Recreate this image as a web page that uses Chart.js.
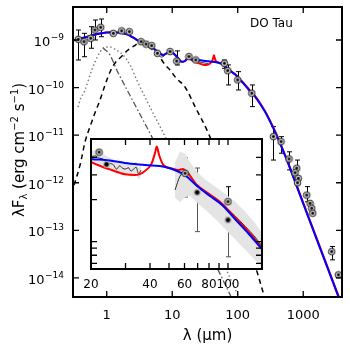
<!DOCTYPE html>
<html>
<head>
<meta charset="utf-8">
<script src="https://cdn.jsdelivr.net/npm/chart.js@4.4.1/dist/chart.umd.min.js"></script>
<style>
  html, body { margin:0; padding:0; background:#fff; }
  #wrap { position:relative; width:350px; height:350px; }
  #main { position:absolute; left:0; top:0; }
  #inset { position:absolute; left:70px; top:130px; }
</style>
</head>
<body>
<div id="wrap">
  <canvas id="main" width="350" height="350"></canvas>
  <canvas id="inset" width="200" height="170"></canvas>
</div>
<script>
// photometry, lambda in micron, lambda*F_lambda in erg cm-2 s-1
const ptLam = [0.368, 0.45, 0.57, 0.66, 0.81, 1.26, 1.69, 2.21, 3.34, 3.98, 4.86, 5.93, 9.25, 11.7, 18.0, 22.9,
  62.4, 70.3, 100, 164, 350, 458, 607, 795, 750, 841, 818, 1130, 1270, 1349, 1397, 2723, 3435];
const ptF = [1.035e-9, 9.2e-10, 1.086e-9, 1.62e-9, 1.85e-9, 1.38e-9, 1.55e-9, 1.49e-9, 9.2e-10, 8.2e-10, 7.6e-10, 5.25e-10, 5.7e-10, 3.6e-10, 4.47e-10, 3.8e-10,
  3.24e-10, 2.27e-10, 1.45e-10, 7.6e-11, 9.3e-12, 7.3e-12, 3.16e-12, 2.02e-12, 1.62e-12, 1.24e-12, 1.0e-12, 5.5e-13, 3.7e-13, 2.92e-13, 2.29e-13, 3.57e-14, 1.16e-14];
const ptLo = [3.8e-10, 4.45e-10, 6.7e-10, 1.0e-9, 1.17e-9, null, null, null, null, null, null, null, null, 2.98e-10, null, null,
  2.54e-10, 1.135e-10, 8.9e-11, 3.98e-11, 3.0e-12, 4.17e-12, 1.86e-12, 1.26e-12, null, null, null, 3.98e-13, null, null, null, 2.4e-14, null];
const ptHi = [1.62e-9, 1.38e-9, 1.9e-9, 2.63e-9, 2.76e-9, null, null, null, null, null, null, null, null, 5.9e-10, null, null,
  3.8e-10, 2.99e-10, 2.16e-10, 1.135e-10, 1.51e-11, 9.3e-12, 4.47e-12, 3.0e-12, null, null, null, 8.3e-13, null, null, null, 4.57e-14, null];

// total model, blue
const blueLam = [0.305, 0.365, 0.556, 0.791, 1.247, 1.596, 2.042, 2.512, 3.221, 4.121, 5.140, 6.067, 7.311, 8.318, 9.247, 10.28, 11.72, 13.96, 15.67, 17.42,
  20.0, 23.55, 29.79, 37.76, 47.75, 54.95, 60.39, 69.50, 80.91, 93.33, 108.6, 126.5, 148.9, 183.7, 223.9, 261.2, 316.2, 370.7, 446.7, 559.8, 1000, 1995, 3396, 3981];
const blueF = [9.77e-10, 1.047e-9, 1.213e-9, 1.371e-9, 1.445e-9, 1.422e-9, 1.318e-9, 1.130e-9, 9.20e-10, 7.85e-10, 6.70e-10, 5.60e-10, 4.84e-10, 5.33e-10, 5.87e-10, 5.33e-10, 4.47e-10, 3.50e-10, 3.62e-10, 4.19e-10,
  3.90e-10, 3.84e-10, 3.65e-10, 3.53e-10, 3.42e-10, 3.20e-10, 2.99e-10, 2.50e-10, 2.12e-10, 1.83e-10, 1.45e-10, 1.153e-10, 8.87e-11, 6.46e-11, 4.37e-11, 3.09e-11, 1.86e-11, 1.175e-11, 6.46e-12, 3.02e-12, 3.63e-13, 2.95e-14, 4.27e-15, 2.40e-15];

// model with crystalline feature, red
const redLam = [0.305, 0.365, 0.556, 0.791, 1.247, 1.596, 2.042, 2.512, 3.221, 4.121, 5.140, 6.067, 7.311, 8.318, 9.247, 10.28, 11.72, 13.96, 15.67, 17.42,
  20.0, 21.7, 25.5, 29.8, 33.5, 37.7, 40.8, 42.4, 43.3, 44.5, 46.8, 51.6, 55.6, 58.9, 61.8, 69.5, 80.9, 93.3, 108.6, 126.5, 148.9, 183.7, 223.9, 261.2, 316.2, 370.7, 446.7, 559.8, 1000, 1995, 3396, 3981];
const redF = [9.77e-10, 1.047e-9, 1.213e-9, 1.371e-9, 1.445e-9, 1.422e-9, 1.318e-9, 1.130e-9, 9.20e-10, 7.85e-10, 6.70e-10, 5.60e-10, 4.84e-10, 5.33e-10, 5.87e-10, 5.33e-10, 4.47e-10, 3.50e-10, 3.62e-10, 4.19e-10,
  3.72e-10, 3.53e-10, 3.25e-10, 3.03e-10, 2.99e-10, 3.20e-10, 3.63e-10, 4.28e-10, 4.78e-10, 4.16e-10, 3.53e-10, 3.34e-10, 3.25e-10, 3.31e-10, 3.15e-10, 2.54e-10, 2.17e-10, 1.87e-10, 1.49e-10, 1.19e-10, 9.12e-11,
  6.68e-11, 4.52e-11, 3.20e-11, 1.93e-11, 1.23e-11, 6.76e-12, 3.16e-12, 3.80e-13, 3.09e-14, 4.47e-15, 2.51e-15];

// components
const rimLam = [0.317, 0.391, 0.467, 0.556, 0.662, 0.791, 0.942, 1.122, 1.340, 1.652, 2.113, 2.612, 3.221, 3.981, 4.920, 6.067, 7.762, 9.247, 11.43, 15.67, 22.28, 35.56, 63.1, 112.2, 204.2, 281.8];
const rimF = [8.91e-13, 2.34e-12, 7.24e-12, 1.51e-11, 2.95e-11, 5.50e-11, 1.135e-10, 2.13e-10, 3.29e-10, 4.40e-10, 6.17e-10, 7.48e-10, 8.71e-10, 7.59e-10, 6.31e-10, 4.90e-10, 3.02e-10, 2.34e-10, 1.585e-10, 1.03e-10, 3.98e-11, 1.10e-11, 1.41e-12, 1.585e-13, 1.148e-14, 2.51e-15];
const starLam = [0.365, 0.391, 0.467, 0.590, 0.662, 0.791, 0.942, 1.122, 1.387, 1.774, 2.270, 2.871, 4.581, 8.241, 31.62, 100, 125.9];
const starF = [3.89e-11, 5.50e-11, 8.91e-11, 2.34e-10, 3.47e-10, 5.62e-10, 7.13e-10, 7.13e-10, 6.17e-10, 4.84e-10, 2.99e-10, 1.445e-10, 3.89e-11, 7.94e-12, 1.41e-13, 4.47e-15, 2.24e-15];
const hotLam = [0.879, 1.122, 1.422, 1.901, 2.704, 4.864, 15.85, 79.43, 100];
const hotF = [6.79e-10, 4.84e-10, 2.34e-10, 1.08e-10, 4.31e-11, 9.33e-12, 3.55e-13, 3.98e-15, 2.0e-15];

// IRS spectrum
const irsLam = [5.25, 5.75, 6.31, 6.92, 7.59, 8.32, 9.12, 10.0, 10.96, 12.02, 13.18, 14.45, 15.85, 17.38, 19.05, 20.89, 22.91, 25.12, 27.54, 30.2, 33.11, 35.48];
const irsF = [6.46e-10, 5.75e-10, 4.68e-10, 4.37e-10, 4.68e-10, 5.37e-10, 5.75e-10, 5.50e-10, 4.90e-10, 4.27e-10, 3.63e-10, 3.47e-10, 3.72e-10, 4.07e-10, 3.98e-10, 3.80e-10, 3.80e-10, 3.55e-10, 3.39e-10, 3.31e-10, 3.24e-10, 3.16e-10];

// inset: IRS long-wavelength end and far-IR spectrum with its band
const insIrsLam = [20, 21, 22, 23, 24, 25, 26, 27, 28, 29, 30, 31, 32, 33, 34, 35, 36];
const insIrsF = [4.05e-10, 4.10e-10, 3.95e-10, 3.90e-10, 3.70e-10, 3.62e-10, 3.55e-10, 3.30e-10, 3.48e-10, 3.35e-10, 3.30e-10, 3.38e-10, 3.20e-10, 3.30e-10, 3.40e-10, 3.05e-10, 3.25e-10];
const insIrsHi = [4.45e-10, 4.50e-10, 4.35e-10, 4.28e-10, 4.08e-10, 3.98e-10, 3.90e-10, 3.66e-10, 3.82e-10, 3.70e-10, 3.64e-10, 3.72e-10, 3.54e-10, 3.64e-10, 3.74e-10, 3.38e-10, 3.55e-10];
const insIrsLo = [3.68e-10, 3.72e-10, 3.58e-10, 3.54e-10, 3.36e-10, 3.29e-10, 3.22e-10, 3.00e-10, 3.16e-10, 3.04e-10, 3.00e-10, 3.07e-10, 2.90e-10, 3.00e-10, 3.08e-10, 2.76e-10, 2.96e-10];
const farLam = [53.7, 56.9, 60.4, 64.0, 69.5, 76.3, 85.9, 96.6, 108.6, 122.2, 137.4, 149.1];
const farF = [2.34e-10, 2.94e-10, 3.15e-10, 2.94e-10, 2.50e-10, 2.26e-10, 1.99e-10, 1.77e-10, 1.53e-10, 1.29e-10, 1.08e-10, 9.3e-11];
const farHi = [3.70e-10, 4.40e-10, 4.25e-10, 3.70e-10, 3.15e-10, 2.78e-10, 2.48e-10, 2.20e-10, 1.94e-10, 1.64e-10, 1.36e-10, 1.15e-10];
const farLo = [2.05e-10, 1.92e-10, 2.08e-10, 2.12e-10, 1.90e-10, 1.70e-10, 1.46e-10, 1.23e-10, 1.04e-10, 8.80e-11, 7.40e-11, 6.60e-11];
const insRingLam = [22.0, 60.4, 100];
const insRingF = [4.36e-10, 3.08e-10, 1.93e-10];
const insRingLo = [null, 2.09e-10, 1.43e-10];
const insRingHi = [null, 3.96e-10, 2.47e-10];
const insDotLam = [24.0, 69.6, 100];
const insDotF = [3.57e-10, 2.25e-10, 1.43e-10];
const insDotLo = [null, 1.18e-10, 7.8e-11];
const insDotHi = [null, 3.36e-10, 1.43e-10];

// ticks
const mainXTicks = [1, 10, 100, 1000];
const mainXText = ['1', '10', '100', '1000'];
const mainYExp = [-9, -10, -11, -12, -13, -14];
const insXTicks = [30, 40, 50, 60, 70, 80, 90, 100];
const insXLabVals = [20, 40, 60, 80, 100];
const insXText = ['20', '40', '60', '80', '100'];
const insYTicks = [4e-10, 3e-10, 2e-10, 1e-10, 9e-11, 8e-11, 7e-11];

const FONT = '"DejaVu Sans", sans-serif';
const xy = (xs, ys) => xs.map((v, i) => ({ x: v, y: ys[i] }));

function ringSym() {
  const c = document.createElement('canvas');
  c.width = 9; c.height = 9;
  const g = c.getContext('2d');
  g.beginPath(); g.arc(4.5, 4.5, 3.3, 0, 2 * Math.PI);
  g.fillStyle = '#cfcfcf'; g.fill();
  g.lineWidth = 1; g.strokeStyle = '#222'; g.stroke();
  g.beginPath(); g.arc(4.5, 4.5, 1.4, 0, 2 * Math.PI);
  g.fillStyle = '#000'; g.fill();
  return c;
}
function dotSym() {
  const c = document.createElement('canvas');
  c.width = 9; c.height = 9;
  const g = c.getContext('2d');
  g.beginPath(); g.arc(4.5, 4.5, 3.4, 0, 2 * Math.PI);
  g.fillStyle = '#b0b0b0'; g.fill();
  g.beginPath(); g.arc(4.5, 4.5, 2.2, 0, 2 * Math.PI);
  g.fillStyle = '#000'; g.fill();
  return c;
}

function frame(chart, xt, yt, len) {
  const { ctx, chartArea: a } = chart;
  const sx = chart.scales.x, sy = chart.scales.y;
  ctx.save();
  ctx.strokeStyle = '#000';
  ctx.lineWidth = 1.3;
  ctx.beginPath();
  xt.forEach(v => {
    const p = sx.getPixelForValue(v);
    ctx.moveTo(p, a.bottom); ctx.lineTo(p, a.bottom - len);
    ctx.moveTo(p, a.top); ctx.lineTo(p, a.top + len);
  });
  yt.forEach(v => {
    const p = sy.getPixelForValue(v);
    ctx.moveTo(a.left, p); ctx.lineTo(a.left + len, p);
    ctx.moveTo(a.right, p); ctx.lineTo(a.right - len, p);
  });
  ctx.stroke();
  ctx.lineWidth = 2;
  ctx.strokeRect(a.left, a.top, a.right - a.left, a.bottom - a.top);
  ctx.restore();
}

function errBars(chart, lam, lo, hi, color) {
  const { ctx, chartArea: a } = chart;
  const sx = chart.scales.x, sy = chart.scales.y;
  ctx.save();
  ctx.beginPath(); ctx.rect(a.left, a.top, a.right - a.left, a.bottom - a.top); ctx.clip();
  ctx.strokeStyle = color; ctx.lineWidth = 1;
  ctx.beginPath();
  lam.forEach((l, i) => {
    if (lo[i] == null) return;
    const px = Math.round(sx.getPixelForValue(l)) + 0.5;
    const y1 = sy.getPixelForValue(hi[i]), y2 = sy.getPixelForValue(lo[i]);
    ctx.moveTo(px, y1); ctx.lineTo(px, y2);
    ctx.moveTo(px - 2.5, y1); ctx.lineTo(px + 2.5, y1);
    ctx.moveTo(px - 2.5, y2); ctx.lineTo(px + 2.5, y2);
  });
  ctx.stroke();
  ctx.restore();
}

// pieces drawn left to right: [text, size, dy]
function richText(ctx, parts, x, y) {
  let w = 0;
  parts.forEach(p => { ctx.font = p[1] + 'px ' + FONT; w += ctx.measureText(p[0]).width; });
  let cx = x - w / 2;
  ctx.textAlign = 'left';
  ctx.textBaseline = 'alphabetic';
  parts.forEach(p => {
    ctx.font = p[1] + 'px ' + FONT;
    ctx.fillText(p[0], cx, y + p[2]);
    cx += ctx.measureText(p[0]).width;
  });
}

const mainDecor = {
  id: 'mainDecor',
  beforeDatasetsDraw(chart) {
    errBars(chart, ptLam, ptLo, ptHi, '#000');
  },
  afterDraw(chart) {
    const { ctx, chartArea: a } = chart;
    const sx = chart.scales.x, sy = chart.scales.y;
    frame(chart, mainXTicks, mainYExp.map(e => Math.pow(10, e)), 6);
    ctx.save();
    ctx.fillStyle = '#000';
    ctx.textBaseline = 'alphabetic';
    // x tick labels
    ctx.font = '13px ' + FONT;
    ctx.textAlign = 'center';
    mainXTicks.forEach((v, i) => ctx.fillText(mainXText[i], sx.getPixelForValue(v), a.bottom + 22));
    // y tick labels 10^n
    mainYExp.forEach(e => {
      const py = sy.getPixelForValue(Math.pow(10, e));
      const sup = '\u2212' + Math.abs(e);
      ctx.font = '9px ' + FONT;
      const sw = ctx.measureText(sup).width;
      ctx.textAlign = 'left';
      ctx.fillText(sup, a.left - 9 - sw, py);
      ctx.font = '13px ' + FONT;
      const bw = ctx.measureText('10').width;
      ctx.fillText('10', a.left - 9 - sw - bw - 0.5, py + 6);
    });
    // axis titles
    richText(ctx, [['\u03bb (\u03bcm)', 15, 0]], (a.left + a.right) / 2, 340);
    ctx.save();
    ctx.translate(24, 150);
    ctx.rotate(-Math.PI / 2);
    richText(ctx, [['\u03bbF', 15, 0], ['\u03bb', 10, 3], [' (erg cm', 15, 0], ['\u22122', 10, -6], [' s', 15, 0], ['\u22121', 10, -6], [')', 15, 0]], 0, 0);
    ctx.restore();
    ctx.font = '12px ' + FONT;
    ctx.textAlign = 'left';
    ctx.fillText('DO Tau', 250, 26.5);
    ctx.restore();
  }
};

const insetDecor = {
  id: 'insetDecor',
  beforeDraw(chart) {
    const { ctx, chartArea: a } = chart;
    ctx.save();
    ctx.fillStyle = '#fff';
    ctx.fillRect(a.left, a.top, a.right - a.left, a.bottom - a.top);
    ctx.restore();
  },
  beforeDatasetsDraw(chart) {
    errBars(chart, insRingLam, insRingLo, insRingHi, '#000');
    errBars(chart, insDotLam, insDotLo, insDotHi, '#555');
  },
  afterDraw(chart) {
    const { ctx, chartArea: a } = chart;
    const sx = chart.scales.x;
    frame(chart, insXTicks, insYTicks, 6);
    ctx.save();
    ctx.fillStyle = '#000';
    ctx.font = '12px ' + FONT;
    ctx.textAlign = 'center';
    ctx.textBaseline = 'alphabetic';
    insXLabVals.forEach((v, i) => ctx.fillText(insXText[i], sx.getPixelForValue(v), a.bottom + 19));
    ctx.restore();
  }
};

const ring = ringSym();
const dot = dotSym();
const lineDs = (data, color, width, dash) => ({
  data, borderColor: color, borderWidth: width, borderDash: dash || [],
  pointRadius: 0, fill: false, cubicInterpolationMode: 'monotone'
});

new Chart(document.getElementById('main'), {
  type: 'line',
  data: {
    datasets: [
      { data: xy(ptLam, ptF), showLine: false, pointStyle: ring, pointRadius: 4, borderColor: '#000', backgroundColor: '#000' },
      lineDs(xy(blueLam, blueF), '#0000ff', 2),
      lineDs(xy(redLam, redF), '#ff0000', 2),
      lineDs(xy(irsLam, irsF), '#000', 0.8),
      lineDs(xy(rimLam, rimF), '#000', 1.5, [5, 4]),
      lineDs(xy(starLam, starF), '#7a7a7a', 1.4, [1.5, 2.5]),
      lineDs(xy(hotLam, hotF), '#555', 1.3, [6, 2.5, 1.5, 2.5])
    ]
  },
  options: {
    responsive: false,
    animation: false,
    layout: { padding: { left: 73, top: 7, right: 8, bottom: 53 } },
    plugins: { legend: { display: false }, tooltip: { enabled: false } },
    scales: {
      x: { type: 'logarithmic', display: false, bounds: 'data', min: 0.3055, max: 3908 },
      y: { type: 'logarithmic', display: false, bounds: 'data', min: 3.98e-15, max: 4.93e-9 }
    }
  },
  plugins: [mainDecor]
});

new Chart(document.getElementById('inset'), {
  type: 'line',
  data: {
    datasets: [
      { data: xy(insRingLam, insRingF), showLine: false, pointStyle: ring, pointRadius: 4, borderColor: '#000', backgroundColor: '#000' },
      { data: xy(insDotLam, insDotF), showLine: false, pointStyle: dot, pointRadius: 4, borderColor: '#000', backgroundColor: '#000' },
      lineDs(xy(blueLam, blueF), '#0000ff', 2),
      lineDs(xy(redLam, redF), '#ff0000', 2),
      lineDs(xy(insIrsLam, insIrsF), '#000', 0.8),
      lineDs(xy(farLam, farF), '#000', 0.8),
      { data: xy(insIrsLam, insIrsHi), borderWidth: 0, pointRadius: 0, fill: '+1', backgroundColor: '#e4e4e4' },
      { data: xy(insIrsLam, insIrsLo), borderWidth: 0, pointRadius: 0, fill: false },
      { data: xy(farLam, farHi), borderWidth: 0, pointRadius: 0, fill: '+1', backgroundColor: '#e4e4e4' },
      { data: xy(farLam, farLo), borderWidth: 0, pointRadius: 0, fill: false }
    ]
  },
  options: {
    responsive: false,
    animation: false,
    layout: { padding: { left: 21, top: 9, right: 8, bottom: 31 } },
    plugins: { legend: { display: false }, tooltip: { enabled: false } },
    scales: {
      x: { type: 'logarithmic', display: false, bounds: 'data', min: 20, max: 149.1 },
      y: { type: 'logarithmic', display: false, bounds: 'data', min: 6.38e-11, max: 5.415e-10 }
    }
  },
  plugins: [insetDecor]
});
</script>
</body>
</html>
